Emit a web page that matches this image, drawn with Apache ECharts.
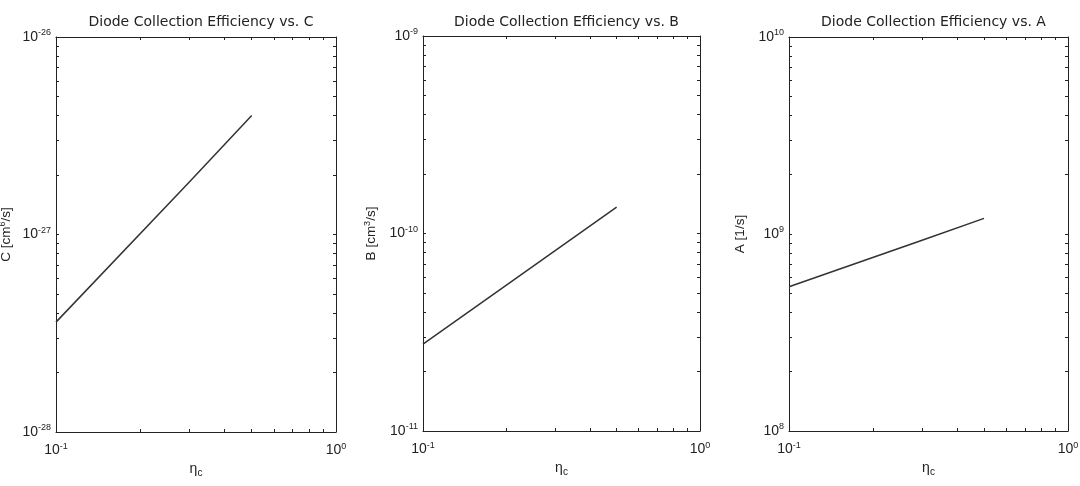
<!DOCTYPE html>
<html lang="en">
<head>
    <meta charset="UTF-8">
    <title>Diode Collection Efficiency</title>
    <script src="https://cdn.jsdelivr.net/npm/echarts@6/dist/echarts.min.js"></script>
</head>
<body style="margin:0;background:#fff">
<div id="box" style="width:1080px;height:486px;"></div>
<script>
  // eta_c values (same for all three panels)
  var etaC = [0.1, 0.3, 0.5];
  var cVals = [3.6e-28, 1.85e-27, 4.0e-27];
  var bVals = [2.75e-11, 8.2e-11, 1.36e-10];
  var aVals = [5.4e8, 9.3e8, 1.2e9];

  var titles = ['Diode Collection Efficiency vs. C', 'Diode Collection Efficiency vs. B', 'Diode Collection Efficiency vs. A'];
  // y axis names, rich text for the superscripts
  var yNames = ['{n|C [cm}{s|6}{n|/s]}', '{n|B [cm}{s|3}{n|/s]}', '{n|A [1/s]}'];
  var yDecades = [[-28, -26], [-11, -9], [8, 10]];
  var xDecades = [-1, 0];

  var grids = [
    {left: 56, top: 37, width: 280, height: 395},
    {left: 423, top: 36, width: 277, height: 395},
    {left: 789, top: 37, width: 279, height: 394}
  ];
  var yNameGap = [42, 44, 42];

  var font = 'Liberation Sans';
  var ink = '#222';

  // echarts rounds very small numbers (<1e-20) to 0 on log axes,
  // so every y axis is plotted relative to its lowest decade
  function logTicks(d0, d1) {
    var out = [];
    for (var d = d0; d < d1; d++) {
      for (var k = 1; k < 10; k++) out.push(k * Math.pow(10, d));
    }
    out.push(Math.pow(10, d1));
    return out;
  }
  function decades(d0, d1) {
    var out = [];
    for (var d = d0; d <= d1; d++) out.push(Math.pow(10, d));
    return out;
  }
  function powLabel(offset) {
    return function (v) {
      return '{b|10}{s|' + (Math.round(Math.log10(v)) + offset) + '}';
    };
  }
  var powRich = {
    b: {fontSize: 14, fontFamily: font, color: ink},
    s: {fontSize: 9, fontFamily: font, color: ink, verticalAlign: 'top', padding: [0, 0, 8, 0]}
  };

  var chart = echarts.init(document.getElementById('box'));
  var option = {
    backgroundColor: '#fff',
    animation: false,
    title: [], grid: [], xAxis: [], yAxis: [], series: []
  };

  var yData = [cVals, bVals, aVals];
  for (var i = 0; i < 3; i++) {
    var g = grids[i];
    var off = yDecades[i][0];
    var span = yDecades[i][1] - off;
    option.grid.push({left: g.left, top: g.top, width: g.width, height: g.height,
      containLabel: false, outerBoundsMode: 'none'});
    option.title.push({
      text: titles[i],
      left: g.left + g.width / 2,
      textAlign: 'center',
      top: 10,
      textStyle: {fontFamily: 'DejaVu Sans', fontSize: 14, fontWeight: 'normal', color: ink}
    });
    var lineStyle = {show: true, onZero: false, lineStyle: {color: ink, width: 1}};
    var tickX = {show: true, inside: true, length: 3, lineStyle: {color: ink},
      customValues: logTicks(xDecades[0], xDecades[1])};
    var tickY = {show: true, inside: true, length: 3, lineStyle: {color: ink},
      customValues: logTicks(0, span)};
    // bottom x axis
    option.xAxis.push({
      type: 'log', gridIndex: i, position: 'bottom',
      min: Math.pow(10, xDecades[0]), max: Math.pow(10, xDecades[1]),
      axisLine: lineStyle, axisTick: tickX, splitLine: {show: false},
      axisLabel: {margin: 10, formatter: powLabel(0), rich: powRich,
        customValues: decades(xDecades[0], xDecades[1])},
      name: '{e|\u03b7}{c|c}', nameLocation: 'middle', nameGap: 26,
      nameTextStyle: {rich: {
        e: {fontSize: 14, fontFamily: font, color: ink},
        c: {fontSize: 10, fontFamily: font, color: ink, verticalAlign: 'bottom', padding: [7, 0, 0, 0]}
      }}
    });
    // top mirror
    option.xAxis.push({
      type: 'log', gridIndex: i, position: 'top',
      min: Math.pow(10, xDecades[0]), max: Math.pow(10, xDecades[1]),
      axisLine: lineStyle, axisTick: tickX, splitLine: {show: false},
      axisLabel: {show: false}
    });
    // left y axis
    option.yAxis.push({
      type: 'log', gridIndex: i, position: 'left',
      min: 1, max: Math.pow(10, span),
      axisLine: lineStyle, axisTick: tickY, splitLine: {show: false},
      axisLabel: {margin: 5, formatter: powLabel(off), rich: powRich,
        customValues: decades(0, span)},
      name: yNames[i], nameLocation: 'middle', nameGap: yNameGap[i], nameRotate: 90,
      nameTextStyle: {rich: {
        n: {fontSize: 13.5, fontFamily: font, color: ink},
        s: {fontSize: 9, fontFamily: font, color: ink, verticalAlign: 'top', padding: [0, 0, 7, 0]}
      }}
    });
    // right mirror
    option.yAxis.push({
      type: 'log', gridIndex: i, position: 'right',
      min: 1, max: Math.pow(10, span),
      axisLine: lineStyle, axisTick: tickY, splitLine: {show: false},
      axisLabel: {show: false}
    });

    var pts = [];
    for (var j = 0; j < etaC.length; j++) pts.push([etaC[j], yData[i][j] / Math.pow(10, off)]);
    option.series.push({
      type: 'line', xAxisIndex: 2 * i, yAxisIndex: 2 * i,
      data: pts, showSymbol: false, silent: true,
      lineStyle: {color: '#333', width: 1.5}
    });
  }

  chart.setOption(option);
</script>
</body>
</html>
